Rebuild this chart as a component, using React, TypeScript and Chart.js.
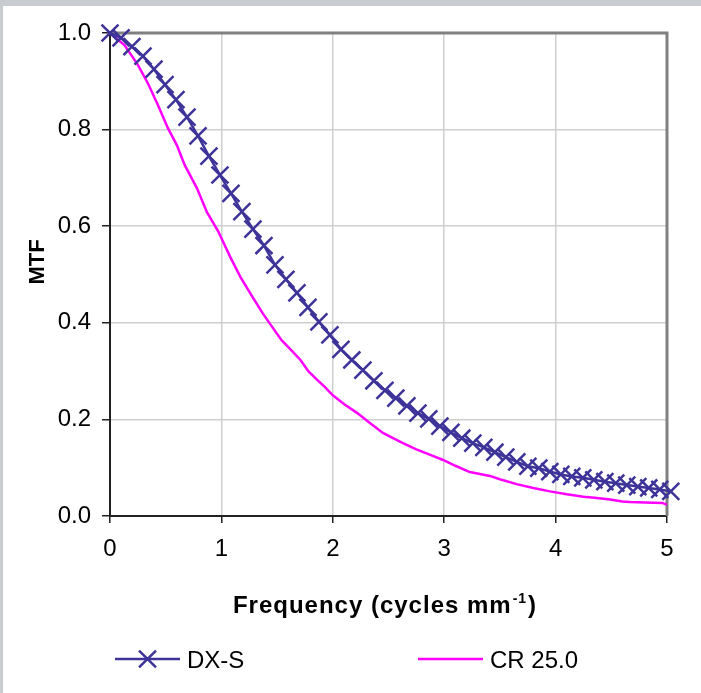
import React, { useEffect, useRef } from "react";
import { Chart, registerables } from "chart.js";

Chart.register(...registerables);

const freqDX = [0, 0.099, 0.197, 0.296, 0.395, 0.494, 0.592, 0.691, 0.79, 0.888, 0.987, 1.086, 1.184, 1.283, 1.382, 1.481, 1.579, 1.678, 1.777, 1.875, 1.974, 2.073, 2.171, 2.27, 2.369, 2.468, 2.566, 2.665, 2.764, 2.862, 2.961, 3.06, 3.158, 3.257, 3.356, 3.455, 3.553, 3.652, 3.751, 3.849, 3.948, 4.047, 4.145, 4.244, 4.343, 4.442, 4.54, 4.639, 4.738, 4.836, 4.935, 5.034];
const mtfDX = [1.0, 0.99, 0.972, 0.952, 0.925, 0.893, 0.862, 0.826, 0.787, 0.745, 0.706, 0.668, 0.63, 0.594, 0.56, 0.52, 0.49, 0.462, 0.432, 0.402, 0.375, 0.345, 0.323, 0.302, 0.28, 0.26, 0.244, 0.228, 0.213, 0.201, 0.186, 0.173, 0.161, 0.151, 0.142, 0.132, 0.122, 0.112, 0.103, 0.099, 0.092, 0.086, 0.082, 0.079, 0.075, 0.071, 0.068, 0.064, 0.061, 0.058, 0.055, 0.051];

const freqCR = [0, 0.05, 0.13, 0.25, 0.34, 0.43, 0.52, 0.6, 0.67, 0.78, 0.87, 0.97, 1.08, 1.17, 1.28, 1.37, 1.46, 1.54, 1.62, 1.71, 1.78, 1.86, 1.93, 2.0, 2.1, 2.22, 2.33, 2.45, 2.55, 2.63, 2.75, 2.87, 2.99, 3.1, 3.23, 3.32, 3.41, 3.5, 3.65, 3.8, 3.95, 4.1, 4.25, 4.35, 4.49, 4.6, 4.67, 4.8, 4.96, 5.0, 5.07];
const mtfCR = [1.0, 0.99, 0.975, 0.934, 0.896, 0.851, 0.803, 0.768, 0.727, 0.679, 0.629, 0.59, 0.536, 0.495, 0.453, 0.42, 0.39, 0.364, 0.345, 0.323, 0.3, 0.282, 0.267, 0.25, 0.232, 0.213, 0.193, 0.172, 0.16, 0.151, 0.138, 0.127, 0.116, 0.104, 0.091, 0.087, 0.083, 0.076, 0.066, 0.058, 0.051, 0.045, 0.04, 0.038, 0.034, 0.03, 0.029, 0.028, 0.027, 0.023, 0.023];

const seriesNames = ["DX-S", "CR 25.0"];
const xTicks = [0, 1, 2, 3, 4, 5];
const yTicks = [0, 0.2, 0.4, 0.6, 0.8, 1.0];
const xTitle = "Frequency (cycles mm";
const xTitleSup = "-1";
const yTitle = "MTF";

const FONT = "'Liberation Sans', Arial, sans-serif";
const DX_COLOR = "#3d3399";
const CR_COLOR = "#ff00ff";

const decorPlugin = {
  id: "decor",
  beforeDatasetsDraw(chart: any) {
    const { ctx, chartArea } = chart;
    const { left, right, top, bottom } = chartArea;
    ctx.save();
    ctx.strokeStyle = "#808080";
    ctx.lineWidth = 3;
    ctx.beginPath();
    ctx.moveTo(left, top);
    ctx.lineTo(right, top);
    ctx.lineTo(right, bottom);
    ctx.stroke();
    ctx.restore();
  },
  afterDraw(chart: any) {
    const { ctx } = chart;
    ctx.save();
    ctx.fillStyle = "#000";
    ctx.textBaseline = "alphabetic";
    ctx.textAlign = "left";
    (ctx as any).letterSpacing = "1px";
    ctx.font = `bold 24px ${FONT}`;
    const w1 = ctx.measureText(xTitle).width;
    const w3 = ctx.measureText(")").width;
    ctx.font = `bold 14px ${FONT}`;
    const w2 = ctx.measureText(xTitleSup).width;
    const total = w1 + w2 + w3 + 2;
    const cx = 382;
    const by = 607;
    let x = cx - total / 2;
    ctx.font = `bold 24px ${FONT}`;
    ctx.fillText(xTitle, x, by);
    x += w1 + 1;
    ctx.font = `bold 14px ${FONT}`;
    ctx.fillText(xTitleSup, x, by - 10);
    x += w2 + 1;
    ctx.font = `bold 24px ${FONT}`;
    ctx.fillText(")", x, by);
    (ctx as any).letterSpacing = "0px";
    ctx.save();
    ctx.translate(35, 256);
    ctx.rotate(-Math.PI / 2);
    ctx.textAlign = "center";
    ctx.textBaseline = "middle";
    ctx.font = `bold 22px ${FONT}`;
    ctx.fillText(yTitle, 0, 0);
    ctx.restore();

    const items = [
      { x1: 112, x2: 177, tx: 184 },
      { x1: 415, x2: 480, tx: 487 },
    ];
    const ly = 653;
    chart.data.datasets.forEach((ds: any, i: number) => {
      const it = items[i];
      ctx.strokeStyle = ds.borderColor;
      ctx.lineWidth = ds.borderWidth;
      ctx.beginPath();
      ctx.moveTo(it.x1, ly);
      ctx.lineTo(it.x2, ly);
      ctx.stroke();
      if (ds.pointRadius > 0) {
        const mx = (it.x1 + it.x2) / 2;
        const r = ds.pointRadius * Math.SQRT1_2;
        ctx.lineWidth = ds.pointBorderWidth;
        ctx.beginPath();
        ctx.moveTo(mx - r, ly - r);
        ctx.lineTo(mx + r, ly + r);
        ctx.moveTo(mx - r, ly + r);
        ctx.lineTo(mx + r, ly - r);
        ctx.stroke();
      }
      ctx.fillStyle = "#000";
      ctx.font = `24px ${FONT}`;
      ctx.textAlign = "left";
      ctx.textBaseline = "alphabetic";
      ctx.fillText(ds.label, it.tx, 662);
    });
    ctx.restore();
  },
};

export default function App() {
  const ref = useRef<HTMLCanvasElement>(null);
  useEffect(() => {
    if (!ref.current) return;
    const chart = new Chart(ref.current, {
      type: "line",
      data: {
        datasets: [
          {
            label: seriesNames[0],
            data: freqDX.map((f, i) => ({ x: f, y: mtfDX[i] })),
            borderColor: DX_COLOR,
            backgroundColor: DX_COLOR,
            borderWidth: 2.5,
            pointStyle: "crossRot",
            pointRadius: 12,
            pointBorderWidth: 2.5,
            pointBorderColor: DX_COLOR,
            pointHoverRadius: 12,
            tension: 0,
            clip: false as any,
          },
          {
            label: seriesNames[1],
            data: freqCR.map((f, i) => ({ x: f, y: mtfCR[i] })),
            borderColor: CR_COLOR,
            backgroundColor: CR_COLOR,
            borderWidth: 2.5,
            pointRadius: 0,
            pointBorderWidth: 0,
            tension: 0,
            clip: false as any,
          },
        ],
      },
      options: {
        responsive: false,
        animation: false,
        layout: { padding: { left: 0, top: 27, right: 34, bottom: 0 } },
        plugins: {
          legend: { display: false },
          tooltip: { enabled: false },
          title: { display: false },
        },
        scales: {
          x: {
            type: "linear",
            min: 0,
            max: 5,
            afterFit: (s: any) => {
              s.height = 177;
            },
            afterBuildTicks: (s: any) => {
              s.ticks = xTicks.map((v) => ({ value: v }));
            },
            ticks: {
              color: "#000",
              font: { family: FONT, size: 24 },
              padding: 12,
              maxRotation: 0,
              callback: (v: any) => String(v),
            },
            grid: {
              color: "#cfcfcf",
              lineWidth: 1.5,
              tickColor: "#222",
              tickLength: 7,
            },
            border: { color: "#222", width: 2 },
          },
          y: {
            type: "linear",
            min: 0,
            max: 1,
            afterFit: (s: any) => {
              s.width = 107;
            },
            afterBuildTicks: (s: any) => {
              s.ticks = yTicks.map((v) => ({ value: v }));
            },
            ticks: {
              color: "#000",
              font: { family: FONT, size: 24 },
              padding: 11,
              callback: (v: any) => Number(v).toFixed(1),
            },
            grid: {
              color: "#cfcfcf",
              lineWidth: 1.5,
              tickColor: "#222",
              tickLength: 8,
            },
            border: { color: "#222", width: 2 },
          },
        },
      },
      plugins: [decorPlugin],
    });
    return () => chart.destroy();
  }, []);

  return (
    <div style={{ position: "fixed", left: 0, top: 0, width: 701, height: 693, background: "#c8ccd1" }}>
      <div style={{ position: "absolute", left: 3, top: 6, width: 698, height: 687, background: "#fff" }}>
        <canvas ref={ref} width={698} height={687} style={{ width: 698, height: 687, display: "block" }} />
      </div>
    </div>
  );
}
